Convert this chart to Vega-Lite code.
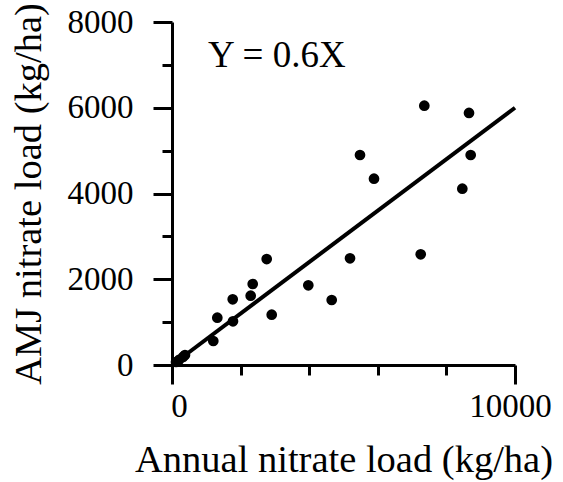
{
  "$schema": "https://vega.github.io/schema/vega-lite/v6.json",
  "width": 343,
  "height": 343,
  "autosize": "none",
  "padding": {"left": 172, "top": 22, "right": 48, "bottom": 117},
  "background": "white",
  "config": {
    "view": {"stroke": null},
    "font": "Liberation Serif",
    "axis": {
      "labelFont": "Liberation Serif",
      "labelFontSize": 33,
      "labelColor": "black",
      "titleFont": "Liberation Serif",
      "titleFontSize": 38.5,
      "titleFontWeight": "normal",
      "titleColor": "black",
      "domainColor": "black",
      "domainWidth": 3,
      "tickColor": "black",
      "tickWidth": 3,
      "grid": false
    }
  },
  "datasets": {
    "fit": [{"x": 0, "y": 0}, {"x": 10000, "y": 6000}],
    "obs": [
      {"x": 7356, "y": 6048},
      {"x": 8659, "y": 5878},
      {"x": 5481, "y": 4898},
      {"x": 8708, "y": 4898},
      {"x": 5889, "y": 4345},
      {"x": 8464, "y": 4112},
      {"x": 2761, "y": 2472},
      {"x": 5190, "y": 2489},
      {"x": 7251, "y": 2582},
      {"x": 2353, "y": 1889},
      {"x": 3974, "y": 1859},
      {"x": 2294, "y": 1616},
      {"x": 1770, "y": 1532},
      {"x": 4656, "y": 1516},
      {"x": 1321, "y": 1103},
      {"x": 1778, "y": 1019},
      {"x": 2907, "y": 1173},
      {"x": 1204, "y": 560},
      {"x": 117, "y": 70},
      {"x": 204, "y": 117},
      {"x": 321, "y": 187},
      {"x": 379, "y": 233}
    ],
    "note": [{"x": 1050, "y": 6950, "label": "Y = 0.6X"}]
  },
  "layer": [
    {
      "data": {"name": "fit"},
      "mark": {"type": "line", "color": "black", "strokeWidth": 4},
      "encoding": {
        "x": {
          "field": "x", "type": "quantitative",
          "scale": {"domain": [0, 10000], "nice": false, "zero": true},
          "axis": {
            "values": [0, 2000, 4000, 6000, 8000, 10000],
            "labelExpr": "datum.value == 0 || datum.value == 10000 ? format(datum.value, 'd') : ''",
            "tickSize": {"condition": {"test": "datum.value == 0 || datum.value == 10000", "value": 19}, "value": 10},
            "labelFlush": false,
            "labelPadding": 6,
            "labelOffset": {"condition": {"test": "datum.value == 0", "value": 7}, "value": -5},
            "title": "Annual nitrate load (kg/ha)",
            "titlePadding": 18
          }
        },
        "y": {
          "field": "y", "type": "quantitative",
          "scale": {"domain": [0, 8000], "nice": false, "zero": true},
          "axis": {
            "values": [0, 1000, 2000, 3000, 4000, 5000, 6000, 7000, 8000],
            "labelExpr": "datum.value % 2000 == 0 ? format(datum.value, 'd') : ''",
            "tickSize": {"condition": {"test": "datum.value % 2000 == 0", "value": 19}, "value": 10},
            "labelFlush": false,
            "labelPadding": 20,
            "title": "AMJ nitrate load (kg/ha)",
            "titlePadding": 19
          }
        }
      }
    },
    {
      "data": {"name": "obs"},
      "mark": {"type": "point", "filled": true, "color": "black", "size": 115, "opacity": 1, "shape": "circle"},
      "encoding": {
        "x": {"field": "x", "type": "quantitative"},
        "y": {"field": "y", "type": "quantitative"}
      }
    },
    {
      "data": {"name": "note"},
      "mark": {"type": "text", "font": "Liberation Serif", "fontSize": 37, "align": "left", "baseline": "alphabetic", "color": "black"},
      "encoding": {
        "x": {"field": "x", "type": "quantitative"},
        "y": {"field": "y", "type": "quantitative"},
        "text": {"field": "label"}
      }
    }
  ]
}
